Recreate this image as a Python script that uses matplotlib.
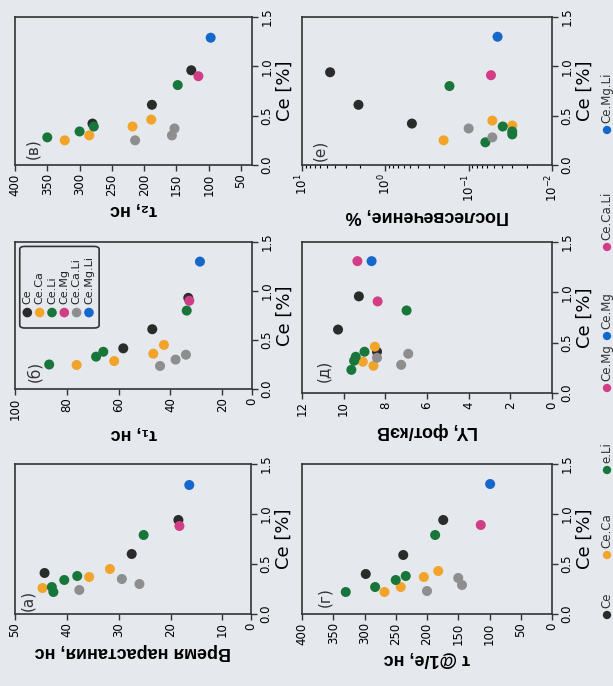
import numpy as np
import matplotlib.pyplot as plt
from matplotlib.patches import FancyBboxPatch

W, H = 613, 686
paper = '#e5e8ec'

series = ['Ce', 'Ce.Ca', 'Ce.Li', 'Ce.Mg', 'Ce.Ca.Li', 'Ce.Mg.Li']
colors = ['#2b2b2b', '#f2a42a', '#18763b', '#d23e86', '#8e8e8e', '#1667cc']

# (a) rise time, ns : Ce [%] and value per series
rise_ce = {'Ce': [0.41, 0.60, 0.94], 'Ce.Ca': [0.26, 0.37, 0.45],
           'Ce.Li': [0.22, 0.27, 0.34, 0.38, 0.79], 'Ce.Mg': [0.88],
           'Ce.Ca.Li': [0.24, 0.30, 0.35], 'Ce.Mg.Li': [1.29]}
rise_val = {'Ce': [44.3, 27.5, 18.5], 'Ce.Ca': [44.7, 35.7, 31.7],
            'Ce.Li': [42.6, 42.9, 40.5, 38.0, 25.2], 'Ce.Mg': [18.3],
            'Ce.Ca.Li': [37.6, 26.0, 29.4], 'Ce.Mg.Li': [16.4]}

# (б) tau1, ns
tau1_ce = {'Ce': [0.415, 0.61, 0.93], 'Ce.Ca': [0.245, 0.285, 0.36, 0.45],
           'Ce.Li': [0.25, 0.33, 0.38, 0.80], 'Ce.Mg': [0.90],
           'Ce.Ca.Li': [0.235, 0.30, 0.35], 'Ce.Mg.Li': [1.30]}
tau1_val = {'Ce': [58.2, 47.0, 33.1], 'Ce.Ca': [76.2, 61.7, 46.6, 42.5],
            'Ce.Li': [86.8, 68.7, 65.9, 33.7], 'Ce.Mg': [32.7],
            'Ce.Ca.Li': [44.0, 38.0, 34.0], 'Ce.Mg.Li': [28.6]}

# (в) tau2, ns
tau2_ce = {'Ce': [0.42, 0.61, 0.96], 'Ce.Ca': [0.25, 0.30, 0.39, 0.46],
           'Ce.Li': [0.28, 0.34, 0.39, 0.81], 'Ce.Mg': [0.90],
           'Ce.Ca.Li': [0.25, 0.30, 0.37], 'Ce.Mg.Li': [1.29]}
tau2_val = {'Ce': [280, 188, 127], 'Ce.Ca': [323, 285, 218, 189],
            'Ce.Li': [350, 300, 278, 148], 'Ce.Mg': [116],
            'Ce.Ca.Li': [214, 157, 153], 'Ce.Mg.Li': [97]}

# (г) tau @1/e, ns
tau_e_ce = {'Ce': [0.40, 0.59, 0.94], 'Ce.Ca': [0.22, 0.27, 0.37, 0.43],
            'Ce.Li': [0.22, 0.27, 0.34, 0.38, 0.79], 'Ce.Mg': [0.89],
            'Ce.Ca.Li': [0.23, 0.29, 0.36], 'Ce.Mg.Li': [1.30]}
tau_e_val = {'Ce': [298, 238, 174], 'Ce.Ca': [268, 242, 205, 182],
             'Ce.Li': [330, 283, 250, 234, 187], 'Ce.Mg': [114],
             'Ce.Ca.Li': [200, 144, 150], 'Ce.Mg.Li': [99]}

# (д) light yield, ph/keV
ly_ce = {'Ce': [0.41, 0.63, 0.96], 'Ce.Ca': [0.31, 0.27, 0.46],
         'Ce.Li': [0.23, 0.32, 0.36, 0.41, 0.82], 'Ce.Mg': [0.91, 1.31],
         'Ce.Ca.Li': [0.35, 0.28, 0.39], 'Ce.Mg.Li': [1.31]}
ly_val = {'Ce': [8.4, 10.27, 9.27], 'Ce.Ca': [9.08, 8.57, 8.5],
          'Ce.Li': [9.63, 9.5, 9.42, 9.0, 6.98], 'Ce.Mg': [8.37, 9.34],
          'Ce.Ca.Li': [8.4, 7.24, 6.9], 'Ce.Mg.Li': [8.66]}

# (е) afterglow, %
ag_ce = {'Ce': [0.94, 0.61, 0.42], 'Ce.Ca': [0.25, 0.45, 0.40],
         'Ce.Li': [0.80, 0.23, 0.39, 0.31, 0.34], 'Ce.Mg': [0.91],
         'Ce.Ca.Li': [0.37, 0.28], 'Ce.Mg.Li': [1.30]}
ag_val = {'Ce': [4.6, 2.1, 0.48], 'Ce.Ca': [0.20, 0.052, 0.030],
          'Ce.Li': [0.17, 0.063, 0.039, 0.030, 0.030], 'Ce.Mg': [0.054],
          'Ce.Ca.Li': [0.10, 0.052], 'Ce.Mg.Li': [0.045]}

# legend strip at the right edge (as on the scan)
strip_labels = ['Ce', 'Ce.Ca', 'e.Li', 'Ce.Mg', 'Ce.Mg', 'Ce.Ca.Li', 'Ce.Mg.Li']
strip_colors = ['#2b2b2b', '#f2a42a', '#18763b', '#d23e86', '#1667cc', '#d23e86', '#1667cc']
strip_y = [615, 555, 470, 388, 336, 247, 130]

ce_ticks = [0.0, 0.5, 1.0, 1.5]
ce_ticklabels = ['0.0', '0.5', '1.0', '1.5']

bold_font = ['Liberation Sans', 'DejaVu Sans']

fig = plt.figure(figsize=(W / 100, H / 100), dpi=100, facecolor=paper)


def px_rect(x0, y0, x1, y1):
    return [x0 / W, 1 - y1 / H, (x1 - x0) / W, (y1 - y0) / H]


def panel(rect, ce, val, xlim, xticks, xticklabels, label, letter, letter_pos, log=False):
    ax = fig.add_axes(px_rect(*rect))
    ax.set_facecolor(paper)
    for name, c in zip(series, colors):
        ax.scatter(val[name], ce[name], s=52, color=c, edgecolors='none', zorder=3)
    if log:
        ax.set_xscale('log')
    ax.set_xlim(*xlim)
    if xticks is not None:
        ax.set_xticks(xticks)
        ax.set_xticklabels(xticklabels)
    ax.set_ylim(0, 1.5)
    ax.set_yticks(ce_ticks)
    ax.set_yticklabels(ce_ticklabels)
    ax.yaxis.tick_right()
    ax.yaxis.set_label_position('right')
    ax.set_ylabel('Ce [%]', fontsize=13, labelpad=2)
    ax.tick_params(axis='x', labelrotation=90, labelsize=8.5, length=4, width=1, color='#333333',
                   pad=2)
    ax.tick_params(axis='x', which='minor', length=2, width=0.8)
    ax.tick_params(axis='y', labelrotation=90, labelsize=8.5, length=4, width=1, color='#333333',
                   pad=2)
    for t in ax.get_yticklabels():
        t.set_va('center')
    ax.set_xlabel(label, rotation=180, fontsize=13, fontweight='bold', family=bold_font,
                  labelpad=4)
    for s in ax.spines.values():
        s.set_linewidth(1.2)
        s.set_color('#333333')
    ax.text(letter_pos[0], letter_pos[1], letter, rotation=90, fontsize=11, color='#333333',
            ha='center', va='center', transform=ax.transAxes)
    return ax


panel((15, 17, 252, 165), tau2_ce, tau2_val, (400, 33), [400, 350, 300, 250, 200, 150, 100, 50],
      ['400', '350', '300', '250', '200', '150', '100', '50'], 'τ₂, нс', '(в)', (0.075, 0.11))
ax_b = panel((15, 242, 252, 389), tau1_ce, tau1_val, (100, 8.5), [100, 80, 60, 40, 20, 8.5],
             ['100', '80', '60', '40', '20', '0'], 'τ₁, нс', '(б)', (0.08, 0.12))
panel((15, 464, 251, 614), rise_ce, rise_val, (50, 4.5), [50, 40, 30, 20, 10, 4.5],
      ['50', '40', '30', '20', '10', '0'], 'Время нарастания, нс', '(а)', (0.055, 0.09))
panel((302, 17, 552, 165), ag_ce, ag_val, (10, 0.01), None, None, 'Послесвечение, %', '(е)',
      (0.072, 0.10), log=True)
panel((302, 242, 552, 393), ly_ce, ly_val, (12, 0), [12, 10, 8, 6, 4, 2, 0],
      ['12', '10', '8', '6', '4', '2', '0'], 'LY, фот/кэВ', '(д)', (0.088, 0.145))
panel((302, 464, 552, 614), tau_e_ce, tau_e_val, (400, 0), [400, 350, 300, 250, 200, 150, 100, 50, 0],
      ['400', '350', '300', '250', '200', '150', '100', '50', '0'], 'τ @1/e, нс', '(г)',
      (0.092, 0.11))

# legend box inside panel (б)
box = FancyBboxPatch((0.02, 0.415), 0.335, 0.555, boxstyle='round,pad=0,rounding_size=0.02',
                     transform=ax_b.transAxes, facecolor='none', edgecolor='#333333',
                     linewidth=1.2, zorder=4)
ax_b.add_patch(box)
leg_x = np.linspace(0.052, 0.312, len(series))
for xi, name, c in zip(leg_x, series, colors):
    ax_b.scatter([xi], [0.52], s=48, color=c, edgecolors='none', transform=ax_b.transAxes,
                 zorder=5, clip_on=False)
    ax_b.text(xi, 0.575, name, rotation=90, fontsize=8, ha='center', va='bottom',
              color='#222222', transform=ax_b.transAxes)

# strip legend on the right edge
ax_s = fig.add_axes([598 / W, 0, 15 / W, 1])
ax_s.set_xlim(0, 1)
ax_s.set_ylim(H, 0)
ax_s.axis('off')
ax_s.scatter([0.6] * len(strip_y), strip_y, s=36, c=strip_colors, edgecolors='none',
             clip_on=False)
for yi, lab in zip(strip_y, strip_labels):
    ax_s.text(0.6, yi - 7, lab, rotation=90, fontsize=8.5, ha='center', va='bottom',
              color='#333333')

fig.savefig('out.png', dpi=100, facecolor=paper)
